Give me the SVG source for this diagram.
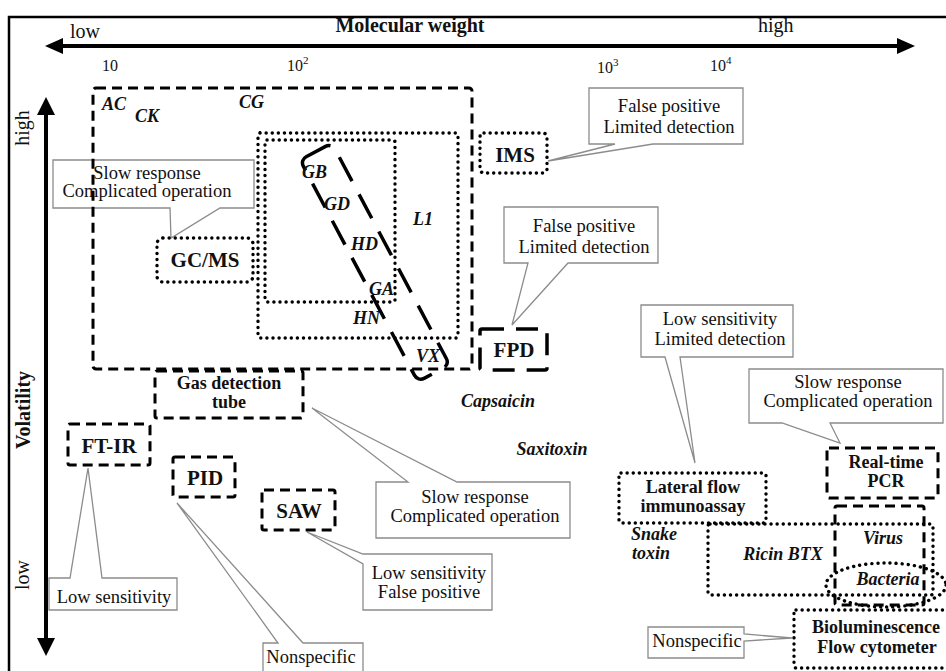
<svg xmlns="http://www.w3.org/2000/svg" width="946" height="671" viewBox="0 0 946 671">
<style>
.dot{fill:none;stroke:#000;stroke-width:3.4;stroke-dasharray:0.1 6;stroke-linecap:round}
.dash{fill:none;stroke:#000;stroke-width:3;stroke-dasharray:10 6}
.ldash{fill:none;stroke:#000;stroke-width:3.5;stroke-dasharray:22 12}
.band{fill:none;stroke:#000;stroke-width:3.5;stroke-dasharray:27 15}
.co{fill:none;stroke:#8c8c8c;stroke-width:1.3;stroke-linejoin:miter}
text{font-family:"Liberation Serif","Times New Roman",serif;fill:#111}
.c{font-size:18.5px;text-anchor:middle}
.n{font-size:21px;font-weight:bold;text-anchor:middle}
.n2{font-size:18px;font-weight:bold;text-anchor:middle}
.a{font-size:18px;font-weight:bold;font-style:italic}
.ax{font-size:20px}
.tk{font-size:16px}
.sup{font-size:11px}
</style>
<rect width="946" height="671" fill="#fff"/>
<path d="M9,671 V17 H946" fill="none" stroke="#000" stroke-width="2.5"/>

<g id="connectors">
  <line x1="60" y1="46" x2="900" y2="46" stroke="#000" stroke-width="4"/>
  <polygon points="45,46 63,38 63,54" fill="#000"/>
  <polygon points="915,46 897,38 897,54" fill="#000"/>
  <line x1="46" y1="112" x2="46" y2="642" stroke="#000" stroke-width="4"/>
  <polygon points="46,97 37,115 55,115" fill="#000"/>
  <polygon points="46,656 37,638 55,638" fill="#000"/>
</g>

<g id="axis-labels">
  <text class="ax" x="70" y="38">low</text>
  <text class="ax" x="758" y="32">high</text>
  <text class="ax" x="410" y="32" text-anchor="middle" font-weight="bold">Molecular weight</text>
  <text class="tk" x="102" y="71">10</text>
  <text class="tk" x="287" y="71">10<tspan class="sup" dy="-7">2</tspan></text>
  <text class="tk" x="597" y="73">10<tspan class="sup" dy="-7">3</tspan></text>
  <text class="tk" x="710" y="71">10<tspan class="sup" dy="-7">4</tspan></text>
  <text class="ax" transform="translate(29,128) rotate(-90)" text-anchor="middle">high</text>
  <text class="ax" transform="translate(30,410) rotate(-90)" text-anchor="middle" font-weight="bold" font-size="21">Volatility</text>
  <text class="ax" transform="translate(29,575) rotate(-90)" text-anchor="middle">low</text>
</g>

<g id="callout-gcms">
  <path class="co" d="M53,160 H254 V208 H220 L171,238 L170,208 H53 Z"/>
  <text class="c" x="147" y="179">Slow response</text>
  <text class="c" x="147" y="197">Complicated operation</text>
</g>
<g id="callout-ims">
  <path class="co" d="M589,88 H743 V144 H653 L548,161 L615,144 H589 Z"/>
  <text class="c" x="669" y="112">False positive</text>
  <text class="c" x="669" y="133">Limited detection</text>
</g>
<g id="callout-fpd">
  <path class="co" d="M504,207 H658 V263 H568 L512,325 L528,263 H504 Z"/>
  <text class="c" x="584" y="232">False positive</text>
  <text class="c" x="584" y="253">Limited detection</text>
</g>
<g id="callout-lfa">
  <path class="co" d="M641,305 H793 V357 H680 L695,463 L665,357 H641 Z"/>
  <text class="c" x="720" y="325">Low sensitivity</text>
  <text class="c" x="720" y="345">Limited detection</text>
</g>
<g id="callout-pcr">
  <path class="co" d="M749,369 H943 V423 H830 L840,443 L782,423 H749 Z"/>
  <text class="c" x="848" y="388">Slow response</text>
  <text class="c" x="848" y="407">Complicated operation</text>
</g>
<g id="callout-gastube">
  <path class="co" d="M376,482 H408 L312,408 L457,482 H570 V538 H376 Z"/>
  <text class="c" x="475" y="503">Slow response</text>
  <text class="c" x="475" y="522">Complicated operation</text>
</g>
<g id="callout-saw">
  <path class="co" d="M363,554 H492 V610 H363 V564 L307,532 Z"/>
  <text class="c" x="429" y="579">Low sensitivity</text>
  <text class="c" x="429" y="598">False positive</text>
</g>
<g id="callout-ftir">
  <path class="co" d="M49,578 H70 L88,468 L102,578 H177 V610 H49 Z"/>
  <text class="c" x="114" y="603">Low sensitivity</text>
</g>
<g id="callout-pid">
  <path class="co" d="M263,643 H278 L177,503 L303,643 H363 V685 H263 Z"/>
  <text class="c" x="311" y="663">Nonspecific</text>
</g>
<g id="callout-bio">
  <path class="co" d="M648,627 H744 V634 L792,638 L744,641 V658 H648 Z"/>
  <text class="c" x="697" y="647">Nonspecific</text>
</g>

<g id="region-volatile">
  <rect class="dash" x="93" y="88" width="379" height="281" rx="3"/>
  <text class="a" x="102" y="110">AC</text>
  <text class="a" x="135" y="122">CK</text>
  <text class="a" x="239" y="108">CG</text>
</g>
<g id="region-l1">
  <rect class="dot" x="258" y="133" width="200" height="205" rx="2"/>
  <text class="a" x="413" y="225">L1</text>
  <text class="a" x="353" y="324">HN</text>
</g>
<g id="region-inner">
  <rect class="dot" x="265" y="140" width="130" height="162" rx="2"/>
  <text class="a" x="369" y="295">GA</text>
</g>
<g id="region-nerve">
  <rect class="band" x="0" y="0" width="36" height="251" rx="7" transform="translate(300,160) rotate(-28)"/>
  <text class="a" x="302" y="178">GB</text>
  <text class="a" x="324" y="210">GD</text>
  <text class="a" x="351" y="250">HD</text>
  <text class="a" x="416" y="362">VX</text>
</g>

<g id="node-gcms">
  <rect class="dot" x="157" y="238" width="96" height="44" rx="6"/>
  <text class="n" x="205" y="267">GC/MS</text>
</g>
<g id="node-ims">
  <rect class="dot" x="480" y="133" width="67" height="40" rx="4"/>
  <text class="n" x="515" y="162">IMS</text>
</g>
<g id="node-fpd">
  <rect class="ldash" x="480" y="329" width="67" height="41" rx="2"/>
  <text class="n" x="514" y="357">FPD</text>
</g>
<g id="node-gastube">
  <rect class="dash" x="155" y="371" width="148" height="47" rx="2"/>
  <text class="n2" x="229" y="389">Gas detection</text>
  <text class="n2" x="229" y="408">tube</text>
</g>
<g id="node-ftir">
  <rect class="dash" x="68" y="424" width="82" height="41" rx="2"/>
  <text class="n" x="109" y="453">FT-IR</text>
</g>
<g id="node-pid">
  <rect class="dash" x="173" y="457" width="62" height="40" rx="2"/>
  <text class="n" x="205" y="485">PID</text>
</g>
<g id="node-saw">
  <rect class="dash" x="262" y="490" width="73" height="40" rx="2"/>
  <text class="n" x="299" y="518">SAW</text>
</g>
<g id="agent-capsaicin">
  <text class="a" x="498" y="407" text-anchor="middle" font-size="18.5">Capsaicin</text>
</g>
<g id="agent-saxitoxin">
  <text class="a" x="552" y="455" text-anchor="middle" font-size="18.5">Saxitoxin</text>
</g>

<g id="node-lfa">
  <rect class="dot" x="619" y="473" width="147" height="50" rx="2"/>
  <text class="n2" x="693" y="493">Lateral flow</text>
  <text class="n2" x="693" y="512">immunoassay</text>
</g>
<g id="agent-snake">
  <text class="a" x="631" y="540" font-size="16.5">Snake</text>
  <text class="a" x="632" y="559" font-size="16.5">toxin</text>
</g>
<g id="region-ricin">
  <rect class="dot" x="708" y="524" width="225" height="71" rx="2"/>
  <text class="a" x="783" y="560" text-anchor="middle" font-size="18.5">Ricin  BTX</text>
</g>
<g id="node-pcr">
  <rect class="dash" x="827" y="448" width="111" height="50" rx="2"/>
  <text class="n2" x="886" y="468">Real-time</text>
  <text class="n2" x="886" y="487">PCR</text>
</g>
<g id="region-virus">
  <rect class="dash" x="835" y="506" width="89" height="99" rx="2"/>
  <text class="a" x="883" y="544" text-anchor="middle">Virus</text>
</g>
<g id="region-bacteria">
  <ellipse class="dot" cx="886" cy="585" rx="60" ry="22"/>
  <text class="a" x="888" y="585" text-anchor="middle">Bacteria</text>
</g>
<g id="node-bio">
  <rect class="dot" x="794" y="610" width="160" height="58" rx="2"/>
  <text class="n2" x="876" y="633">Bioluminescence</text>
  <text class="n2" x="877" y="653">Flow cytometer</text>
</g>
</svg>
